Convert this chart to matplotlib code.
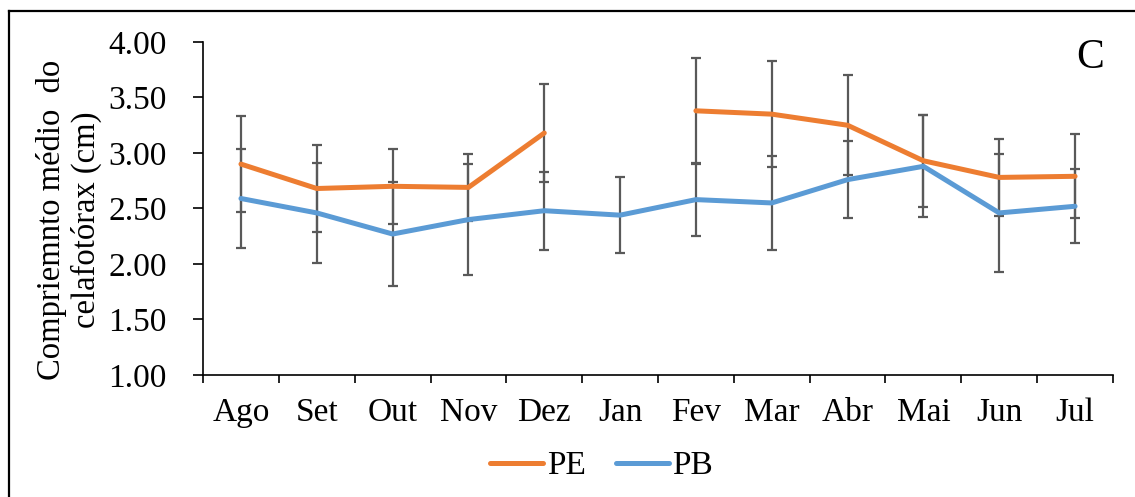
import numpy as np
import matplotlib.pyplot as plt
from matplotlib.lines import Line2D

plt.rcParams['font.family'] = ['Liberation Serif', 'DejaVu Serif']

MONTHS = ['Ago', 'Set', 'Out', 'Nov', 'Dez', 'Jan', 'Fev', 'Mar', 'Abr', 'Mai', 'Jun', 'Jul']
PE = [2.90, 2.68, 2.70, 2.69, 3.18, np.nan, 3.38, 3.35, 3.25, 2.93, 2.78, 2.79]
PE_ERR = [0.43, 0.39, 0.34, 0.30, 0.44, np.nan, 0.48, 0.48, 0.45, 0.415, 0.35, 0.38]
PB = [2.59, 2.46, 2.27, 2.40, 2.48, 2.44, 2.58, 2.55, 2.76, 2.88, 2.46, 2.52]
PB_ERR = [0.45, 0.45, 0.47, 0.50, 0.35, 0.34, 0.33, 0.42, 0.35, 0.46, 0.535, 0.335]

ORANGE = '#ED7D31'
BLUE = '#5B9BD5'
GREY = '#595959'

fig = plt.figure(figsize=(11.35, 4.97), dpi=100)
ax = fig.add_axes([0.1789, 0.2455, 0.9806 - 0.1789, 0.9155 - 0.2455])

x = np.arange(len(MONTHS))
for vals, err, col, lab in [(PE, PE_ERR, ORANGE, 'PE'), (PB, PB_ERR, BLUE, 'PB')]:
    ax.errorbar(x, vals, yerr=err, fmt='none', ecolor=GREY, elinewidth=1.6,
                capsize=3.8, capthick=1.6, zorder=2)
    ax.plot(x, vals, color=col, linewidth=3.6, solid_capstyle='round',
            label=lab, zorder=3)

ax.set_xlim(-0.5, len(MONTHS) - 0.5)
ax.set_ylim(1.0, 4.0)
ax.set_yticks(np.arange(1.0, 4.01, 0.5))
ax.set_yticklabels([f'{v:.2f}' for v in np.arange(1.0, 4.01, 0.5)], fontsize=24)
ax.set_xticks(x)
ax.set_xticklabels(MONTHS, fontsize=24)
ax.set_xticks(np.arange(-0.5, len(MONTHS)), minor=True)
ax.tick_params(axis='x', which='major', length=0, pad=16)
ax.tick_params(axis='x', which='minor', length=6, width=1.2, color='black', direction='out')
ax.tick_params(axis='y', length=7, width=1.2, direction='out', pad=19)
for s in ['top', 'right']:
    ax.spines[s].set_visible(False)
ax.spines['left'].set_linewidth(1.2)
ax.spines['bottom'].set_linewidth(1.2)

ax.set_ylabel('Compriemnto médio  do\ncelafotórax (cm)', fontsize=23.5,
              linespacing=1.15)
ax.yaxis.set_label_coords(-0.111, 0.465)

ax.text(0.99, 1.012, 'C', transform=ax.transAxes, fontsize=30,
        ha='right', va='top')

fig.legend(handles=[Line2D([0], [0], color=ORANGE, lw=3.6, solid_capstyle='round'),
                    Line2D([0], [0], color=BLUE, lw=3.6, solid_capstyle='round')],
           labels=['PE', 'PB'], loc='center', bbox_to_anchor=(0.530, 0.062),
           ncol=2, frameon=False, fontsize=24, handlelength=1.6,
           handletextpad=0.1, columnspacing=0.9)

# outer frame (top and left edges visible)
fig.add_artist(Line2D([9 / 1135, 1.0], [1 - 11 / 497, 1 - 11 / 497],
                      transform=fig.transFigure, color='black', lw=1.6))
fig.add_artist(Line2D([9 / 1135, 9 / 1135], [0.0, 1 - 11 / 497],
                      transform=fig.transFigure, color='black', lw=1.6))

fig.savefig('out.png', dpi=100)
